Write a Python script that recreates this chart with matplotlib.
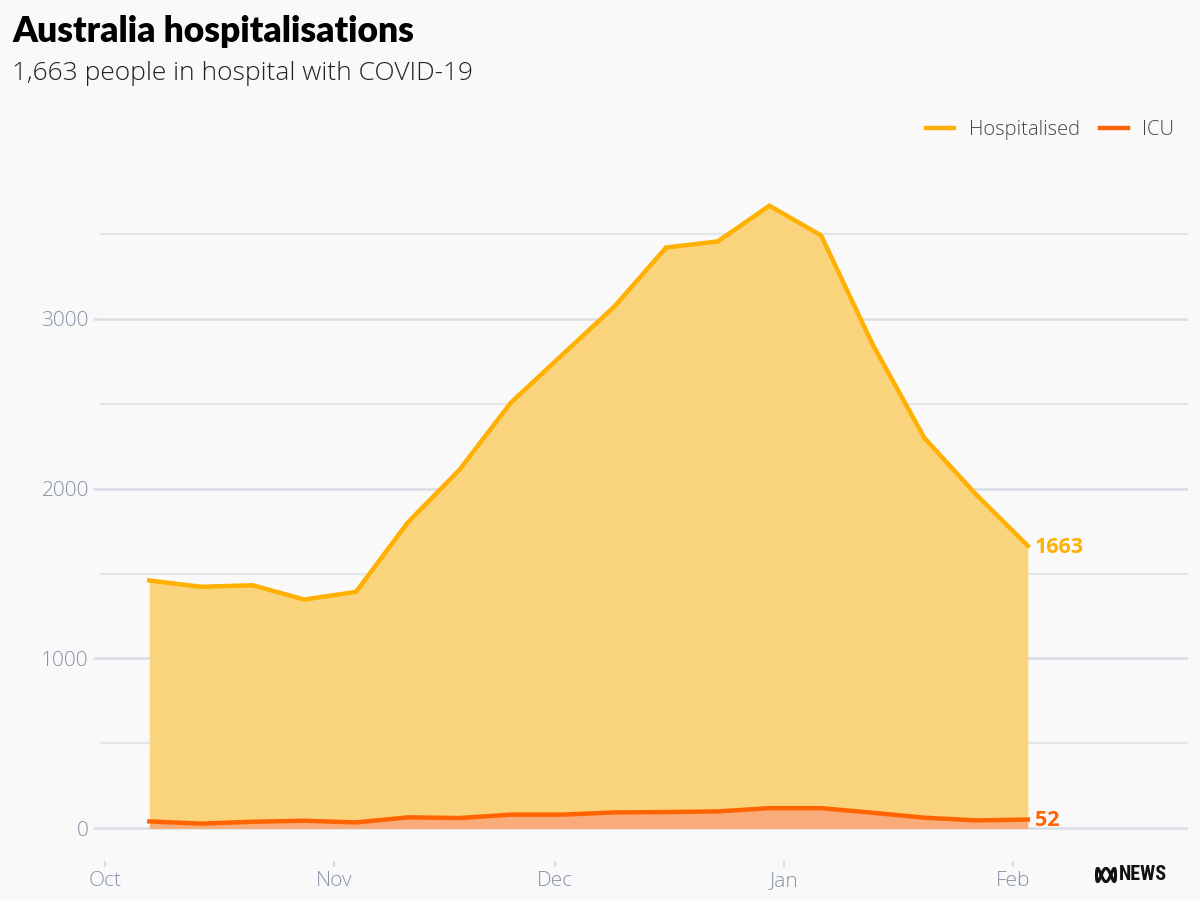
import numpy as np
import matplotlib
matplotlib.use("Agg")
import matplotlib.pyplot as plt
import matplotlib.dates as mdates
from datetime import datetime

dates = ["2022-10-07", "2022-10-14", "2022-10-21", "2022-10-28", "2022-11-04",
         "2022-11-11", "2022-11-18", "2022-11-25", "2022-12-02", "2022-12-09",
         "2022-12-16", "2022-12-23", "2022-12-30", "2023-01-06", "2023-01-13",
         "2023-01-20", "2023-01-27", "2023-02-03"]
hospitalised = [1459, 1422, 1431, 1347, 1392, 1800, 2110, 2507, 2790, 3072,
                3419, 3455, 3665, 3490, 2847, 2298, 1965, 1663]
icu = [41, 28, 39, 45, 35, 65, 61, 81, 81, 94, 96, 100, 119, 119, 92, 63, 47, 52]
month_ticks = ["2022-10-01", "2022-11-01", "2022-12-01", "2023-01-01", "2023-02-01"]
month_labels = ["Oct", "Nov", "Dec", "Jan", "Feb"]
y_ticks = [0, 1000, 2000, 3000]
y_grid = [500, 1500, 2500, 3500]

x = [datetime.strptime(d, "%Y-%m-%d") for d in dates]
xt = [datetime.strptime(d, "%Y-%m-%d") for d in month_ticks]

BG = "#f9f9f9"
HOSP = "#ffb000"
HOSP_FILL = "#fad47c"
ICU = "#ff6400"
ICU_FILL = "#f9ab79"
GRID = "#dadfe6"
TICK_COL = "#8592a6"
BODY = ["Open Sans", "DejaVu Sans"]

plt.rcParams['font.family'] = BODY

fig = plt.figure(figsize=(12, 9), dpi=100, facecolor=BG)
ax = fig.add_axes([100/1200, 39/900, 1088/1200, 711/900])
ax.set_facecolor(BG)

ax.set_ylim(-192, 3993)
x0 = mdates.date2num(xt[0])
ax.set_xlim(x0 - 0.68, x0 + 146.7)

for g in y_grid:
    ax.axhline(g, color="#e3e6eb", lw=1.6, zorder=0)
for g in y_ticks:
    ax.axhline(g, color=GRID, lw=1.8, zorder=0)

ax.fill_between(x, 0, hospitalised, color=HOSP_FILL, lw=0, zorder=1)
ax.fill_between(x, 0, icu, color=ICU_FILL, lw=0, zorder=2)
ax.plot(x, hospitalised, color=HOSP, lw=3.2, zorder=3, solid_joinstyle="miter",
        label="Hospitalised")
ax.plot(x, icu, color=ICU, lw=3.2, zorder=4, label="ICU")

ax.annotate(f"{hospitalised[-1]}", (x[-1], hospitalised[-1]), xytext=(5, -1),
            textcoords="offset points", ha="left", va="center",
            color=HOSP, fontsize=15.5, fontweight="bold")
ax.annotate(f"{icu[-1]}", (x[-1], icu[-1]), xytext=(5, -1),
            textcoords="offset points", ha="left", va="center",
            color=ICU, fontsize=15.5, fontweight="bold")

for s in ax.spines.values():
    s.set_visible(False)

ax.set_xticks(xt)
ax.set_xticklabels(month_labels)
ax.set_yticks(y_ticks)
ax.set_yticklabels([str(v) for v in y_ticks])
ax.tick_params(axis="x", length=4, width=1.5, color="#d5dbe3", pad=3,
               labelsize=15, labelcolor=TICK_COL)
ax.tick_params(axis="y", length=5, width=1.8, color=GRID, pad=3,
               labelsize=15, labelcolor=TICK_COL)
for lab in ax.get_xticklabels() + ax.get_yticklabels():
    lab.set_fontweight("light")

leg = ax.legend(loc="upper right", bbox_to_anchor=(1182/1200, 1 - 112/900),
                bbox_transform=fig.transFigure, ncol=2, frameon=False,
                fontsize=14.5, handlelength=1.4, handletextpad=0.7,
                columnspacing=1.0, borderaxespad=0)
for t in leg.get_texts():
    t.set_color("#444444")
    t.set_fontweight("light")

fig.text(12/1200, 1 - 31/900, "Australia hospitalisations", fontsize=25.5,
         fontweight="heavy", color="#000000", va="center", ha="left",
         family=["Lato", "DejaVu Sans"])
fig.text(12/1200, 1 - 73/900, "1,663 people in hospital with COVID-19",
         fontsize=19, fontweight="light", color="#222222", va="center", ha="left")

# ABC News logo (approximation)
lax = fig.add_axes([1095/1200, 1 - 883/900, 22/1200, 16/900])
t = np.linspace(0, 2*np.pi, 600)
lax.plot(np.cos(t), np.sin(3*t), color="#111111", lw=2.2)
lax.set_xlim(-1.15, 1.15); lax.set_ylim(-1.2, 1.2)
lax.axis("off")
fig.text(1119/1200, 1 - 874/900, "NEWS", fontsize=14.5, fontweight="heavy",
         color="#111111", va="center", ha="left",
         family=["Roboto Condensed", "Roboto", "DejaVu Sans"])

fig.savefig("out.png", dpi=100, facecolor=BG)
